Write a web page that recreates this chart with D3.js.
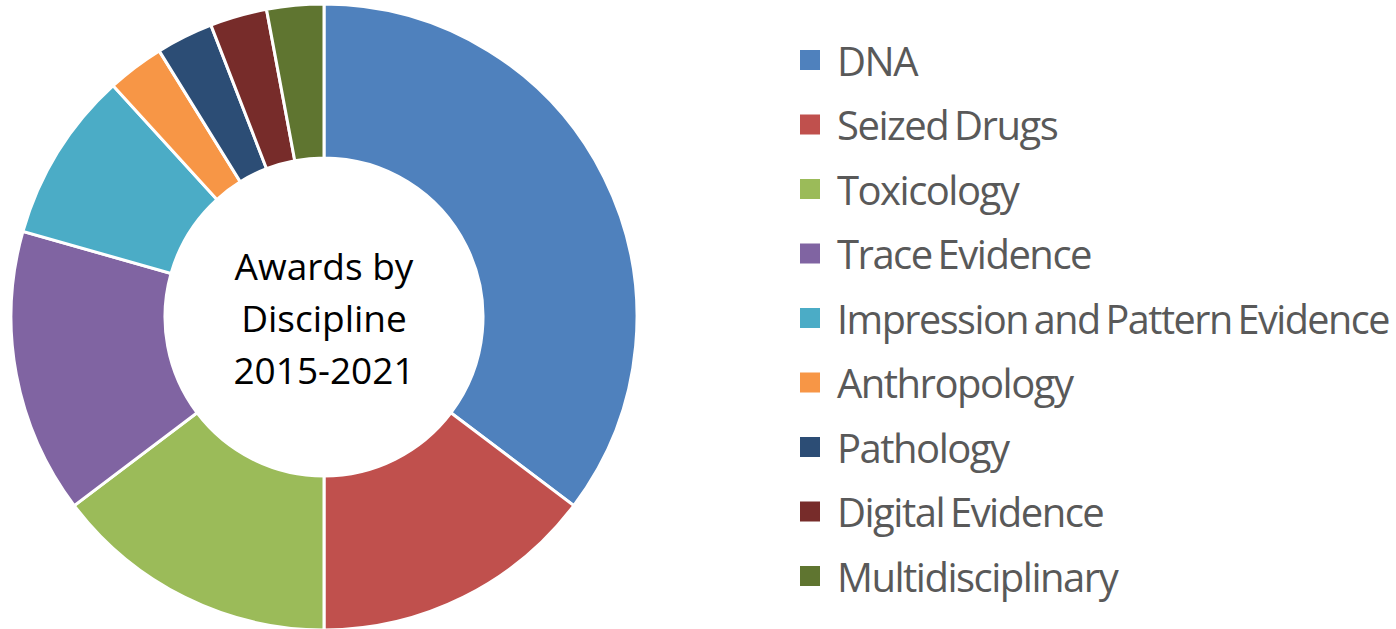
<!DOCTYPE html>
<html>
<head>
<meta charset="utf-8">
<script src="https://cdn.jsdelivr.net/npm/d3@7"></script>
<style>
  body { margin: 0; background: #fff; }
  text { font-family: "Open Sans", "Noto Sans", sans-serif; }
</style>
</head>
<body>
<div id="container"></div>
<script>
// data (awards per discipline)
var disciplines = ["DNA", "Seized Drugs", "Toxicology", "Trace Evidence",
    "Impression and Pattern Evidence", "Anthropology", "Pathology",
    "Digital Evidence", "Multidisciplinary"];
var awards = [12, 5, 5, 5, 3, 1, 1, 1, 1];
var colours = ["#4f81bd", "#c0504d", "#9bbb59", "#8064a2", "#4bacc6",
    "#f79646", "#2c4d75", "#772c2a", "#5f7530"];
var centreLines = ["Awards by", "Discipline", "2015-2021"];

// sizes
var width = 1396;
var height = 629;
var cx = 324;
var cy = 317;
var outerR = 313;
var innerR = 159;
var maxLegendText = 552;

var svg = d3.select("#container")
            .append("svg")
            .attr("width", width)
            .attr("height", height);

var colour = d3.scaleOrdinal()
               .domain(disciplines)
               .range(colours);

// make pie
var pie = d3.pie().sort(null);
var arc = d3.arc()
            .innerRadius(innerR)
            .outerRadius(outerR);

var slices = pie(awards);

svg.append("g")
   .attr("transform", "translate(" + cx + "," + cy + ")")
   .selectAll("path")
   .data(slices)
   .enter()
   .append("path")
   .attr("d", arc)
   .attr("fill", function(d, i) { return colour(disciplines[i]); })
   .attr("stroke", "#fff")
   .attr("stroke-width", 3);

// centre text
svg.append("g")
   .selectAll("text")
   .data(centreLines)
   .enter()
   .append("text")
   .attr("x", cx)
   .attr("y", function(d, i) { return cy - 52 + i * 52; })
   .attr("text-anchor", "middle")
   .attr("dominant-baseline", "central")
   .attr("font-size", 37)
   .attr("fill", "#000")
   .text(function(d) { return d; });

// legend
var legendY = d3.scalePoint()
                .domain(disciplines)
                .range([60, 576]);

var legend = svg.append("g")
                .selectAll("g")
                .data(disciplines)
                .enter()
                .append("g")
                .attr("transform", function(d) {
                    return "translate(800," + legendY(d) + ")";
                });

legend.append("rect")
      .attr("x", 0)
      .attr("y", -10)
      .attr("width", 20)
      .attr("height", 20)
      .attr("fill", function(d) { return colour(d); });

legend.append("text")
      .attr("x", 37)
      .attr("y", 0)
      .attr("dominant-baseline", "central")
      .attr("font-size", 40)
      .attr("fill", "#595959")
      .attr("letter-spacing", -1.5)
      .attr("word-spacing", -3)
      .text(function(d) { return d; })
      .each(function() {
          // squeeze text that runs past the right edge
          var len = this.getComputedTextLength();
          if (len > maxLegendText) {
              d3.select(this)
                .attr("textLength", maxLegendText)
                .attr("lengthAdjust", "spacingAndGlyphs");
          }
      });
</script>
</body>
</html>
